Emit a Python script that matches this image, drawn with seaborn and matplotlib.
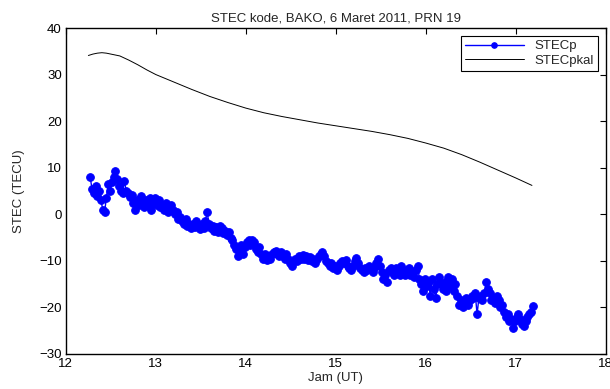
import numpy as np
import pandas as pd
import matplotlib
matplotlib.use("Agg")
import matplotlib.pyplot as plt
import seaborn as sns

# ---- data ----
t_start = 12.27
t_step = 0.02
stec_p = [
    8.0, 5.5, 4.5, 6.0, 4.0, 5.0, 3.0, 1.0, 0.5, 3.5,
    6.5, 5.0, 7.0, 8.0, 9.3, 7.5, 6.0, 5.0, 4.5, 7.2,
    5.0, 4.5, 3.8, 4.2, 2.5, 1.0, 3.0, 2.0, 4.0, 2.5,
    1.5, 3.0, 2.0, 3.5, 1.0, 2.5, 3.5, 2.0, 3.0, 1.5,
    2.0, 1.0, 2.5, 0.5, 1.5, 2.0, 1.0, 0.0, 0.5, -1.0,
    -0.5, -1.5, -2.0, -1.0, -2.5, -2.0, -3.0, -2.0, -2.8, -1.5,
    -2.5, -3.2, -2.0, -3.0, -1.5, 0.5, -2.0, -3.0, -2.5, -3.5,
    -2.8, -3.8, -2.5, -3.0, -4.0, -3.5, -4.5, -3.8, -5.0, -5.5,
    -6.5, -7.5, -9.0, -8.0, -6.5, -8.5, -7.0, -6.0, -5.5, -6.5,
    -5.5, -6.0, -7.5, -8.0, -7.0, -8.5, -9.5, -8.5, -9.8, -9.0,
    -9.5, -8.5, -8.0, -7.8, -8.5, -9.0, -8.2, -9.0, -9.5, -8.5,
    -9.5, -10.5, -11.0, -10.0, -9.5, -10.0, -9.0, -9.5, -8.8, -9.5,
    -9.0, -9.8, -9.2, -10.0, -9.5, -10.5, -9.5, -9.0, -8.5, -8.2,
    -9.0, -10.0, -10.5, -11.0, -10.5, -11.5, -11.0, -12.0, -11.0, -10.5,
    -10.0, -10.5, -9.8, -11.0, -11.5, -12.0, -11.0, -10.0, -9.3, -10.5,
    -11.5, -12.0, -12.5, -11.5, -12.0, -11.0, -11.5, -12.5, -11.5, -10.5,
    -9.5, -11.0, -12.5, -14.0, -13.0, -14.5, -12.0, -11.5, -12.5, -13.0,
    -11.5, -12.0, -13.0, -11.0, -12.0, -13.0, -12.0, -11.5, -13.0, -12.5,
    -13.5, -12.0, -11.0, -14.0, -15.0, -16.5, -14.0, -15.5, -14.5, -17.5,
    -14.0, -16.0, -18.0, -15.0, -13.5, -15.0, -16.0, -14.5, -16.5, -13.5,
    -15.5, -14.0, -16.5, -15.0, -17.5, -19.5, -18.5, -20.0, -19.0, -18.0,
    -19.5, -18.5, -17.5, -18.0, -17.0, -21.5, -18.0, -17.5, -18.5, -17.0,
    -14.5, -16.0, -17.0, -18.5, -18.0, -19.0, -17.5, -18.5, -20.0, -19.5,
    -21.0, -22.0, -21.5, -23.0, -22.5, -24.5, -23.0, -22.0, -21.5, -22.5,
    -23.5, -24.0, -23.0, -22.0, -21.5, -21.0, -19.8,
]
t_p = np.round(t_start + t_step * np.arange(len(stec_p)), 4)

t_kal = [12.25, 12.3, 12.35, 12.4, 12.45, 12.5, 12.6, 12.7, 12.8, 12.9, 13.0,
         13.2, 13.4, 13.6, 13.8, 14.0, 14.2, 14.4, 14.6, 14.8, 15.0, 15.2,
         15.4, 15.6, 15.8, 16.0, 16.2, 16.4, 16.6, 16.8, 17.0, 17.18]
stec_kal = [34.1, 34.4, 34.6, 34.7, 34.6, 34.4, 34.0, 33.1, 32.1, 31.0, 30.0,
            28.4, 26.8, 25.3, 24.0, 22.8, 21.8, 21.0, 20.3, 19.6, 19.0, 18.4,
            17.8, 17.1, 16.3, 15.3, 14.2, 12.8, 11.2, 9.5, 7.8, 6.2]

title = "STEC kode, BAKO, 6 Maret 2011, PRN 19"
xlabel = "Jam (UT)"
ylabel = "STEC (TECU)"
series_names = ["STECp", "STECpkal"]

# ---- plot ----
sns.set_style("white")
plt.rcParams['font.family'] = ['Liberation Sans', 'DejaVu Sans']

fig = plt.figure(figsize=(6.10, 3.89), dpi=100)
ax = fig.add_axes([0.108, 0.090, 0.885, 0.838])

df_p = pd.DataFrame({"t": t_p, "v": stec_p})
df_k = pd.DataFrame({"t": t_kal, "v": stec_kal})

sns.lineplot(data=df_p, x="t", y="v", ax=ax, color="#0000ff", linewidth=1.0,
             marker="o", markersize=5.5, markeredgecolor="#0000ff",
             markerfacecolor="#0000ff", estimator=None, sort=False,
             label=series_names[0])
sns.lineplot(data=df_k, x="t", y="v", ax=ax, color="black", linewidth=0.7,
             estimator=None, sort=False, label=series_names[1])

ax.set_xlim(12, 18)
ax.set_ylim(-30, 40)
ax.set_xticks(range(12, 19))
ax.set_yticks(range(-30, 41, 10))
ax.tick_params(direction="in", length=4, width=0.8, top=True, right=True,
               labelsize=9.5, colors="black", pad=3)
for s in ax.spines.values():
    s.set_visible(True)
    s.set_color("black")
    s.set_linewidth(1.0)
ax.set_title(title, fontsize=9.5, pad=5)
ax.set_xlabel(xlabel, fontsize=9.5, labelpad=1)
ax.set_ylabel(ylabel, fontsize=9.5, labelpad=10)

leg = ax.legend(loc="upper right", fontsize=9.5, frameon=True, fancybox=False,
                edgecolor="black", framealpha=1, borderpad=0.3, numpoints=1,
                handlelength=4.5, labelspacing=0.2, borderaxespad=0.6)
leg.get_frame().set_linewidth(0.8)
for line in leg.get_lines():
    line.set_markersize(4)

fig.savefig("out.png", dpi=100)
